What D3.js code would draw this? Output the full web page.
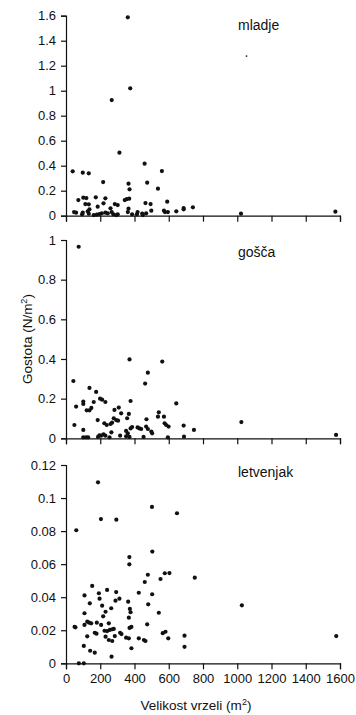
<!DOCTYPE html>
<html>
<head>
<meta charset="utf-8">
<script src="https://cdn.jsdelivr.net/npm/d3@7"></script>
<style>
  html, body { margin: 0; padding: 0; background: #fff; }
  svg { display: block; font-family: Arial, "Liberation Sans", sans-serif; }
</style>
</head>
<body>
<svg id="chart" width="356" height="715"></svg>
<script>
// ---- data (x = gap size m², y = density N/m²) ----
const xTicks = [0, 200, 400, 600, 800, 1000, 1200, 1400, 1600];

const mladjeX = [361, 375, 267, 312, 459, 39, 560, 98, 133, 217, 365, 474, 371, 537,
  72, 101, 119, 174, 230, 343, 355, 369, 113, 133, 219, 285, 302, 464, 494, 591,
  185, 260, 137, 687, 687, 741, 365, 498, 572, 644, 47, 59, 98, 127, 162, 180, 195,
  209, 230, 244, 267, 277, 302, 361, 418, 445, 468, 578, 595, 1022, 1573, 94, 133,
  414, 449, 293, 386];
const mladjeY = [1.587, 1.019, 0.925, 0.504, 0.416, 0.355, 0.357, 0.344, 0.339, 0.269,
  0.256, 0.264, 0.211, 0.216, 0.125, 0.144, 0.141, 0.147, 0.139, 0.125, 0.133, 0.136,
  0.093, 0.091, 0.099, 0.093, 0.085, 0.101, 0.093, 0.112, 0.072, 0.059, 0.051, 0.061,
  0.051, 0.067, 0.056, 0.040, 0.040, 0.035, 0.029, 0.024, 0.024, 0.035, 0.005, 0.008,
  0.013, 0.019, 0.024, 0.019, 0.029, 0.011, 0.011, 0.029, 0.029, 0.016, 0.019, 0.029,
  0.029, 0.016, 0.032, 0.011, 0.016, 0.011, 0.005, 0.005, 0.011];
const mladjeSpeckX = [1054];
const mladjeSpeckY = [1.277];

const goscaX = [74, 371, 562, 478, 462, 43, 137, 377, 176, 644, 59, 101, 101, 121, 137,
  148, 162, 199, 211, 230, 308, 283, 322, 367, 49, 185, 224, 238, 260, 269, 279, 293,
  304, 357, 470, 542, 537, 572, 576, 585, 599, 687, 747, 1024, 1577, 101, 351, 361,
  377, 386, 418, 429, 439, 468, 478, 498, 503, 265, 316, 195, 205, 219, 230, 187, 101,
  117, 129, 254, 351, 371, 453, 595, 689];
const goscaY = [0.966, 0.398, 0.387, 0.331, 0.276, 0.289, 0.254, 0.188, 0.234, 0.176,
  0.160, 0.185, 0.173, 0.141, 0.141, 0.153, 0.183, 0.200, 0.195, 0.183, 0.155, 0.143,
  0.126, 0.123, 0.067, 0.092, 0.076, 0.067, 0.072, 0.079, 0.101, 0.092, 0.089, 0.101,
  0.096, 0.131, 0.109, 0.109, 0.076, 0.067, 0.059, 0.064, 0.042, 0.082, 0.017, 0.042,
  0.037, 0.025, 0.050, 0.057, 0.055, 0.050, 0.047, 0.059, 0.047, 0.034, 0.025, 0.030,
  0.013, 0.015, 0.013, 0.020, 0.013, 0.007, 0.005, 0.005, 0.005, 0.005, 0.010, 0.007,
  0.007, 0.005, 0.008];

const letvenjakX = [187, 60, 204, 294, 502, 648, 504, 370, 370, 478, 577, 604, 752, 460,
  552, 153, 240, 108, 192, 293, 425, 503, 196, 289, 312, 139, 211, 363, 373, 377, 480,
  231, 264, 108, 367, 542, 217, 50, 55, 108, 124, 135, 147, 180, 205, 250, 225, 240,
  256, 270, 279, 168, 178, 285, 231, 316, 324, 351, 367, 371, 382, 124, 250, 270, 474,
  425, 455, 464, 565, 581, 597, 692, 692, 382, 104, 141, 168, 266, 75, 104, 1027, 1578];
const letvenjakY = [0.1095, 0.0805, 0.0873, 0.0869, 0.0946, 0.0908, 0.0676, 0.0643,
  0.0599, 0.0536, 0.0545, 0.0546, 0.0518, 0.0492, 0.0510, 0.0468, 0.0444, 0.0411,
  0.0424, 0.0431, 0.0427, 0.0418, 0.0391, 0.0379, 0.0391, 0.0363, 0.0349, 0.0373,
  0.0329, 0.0309, 0.0357, 0.0312, 0.0333, 0.0303, 0.0276, 0.0306, 0.0284, 0.0221,
  0.0218, 0.0232, 0.0252, 0.0246, 0.0242, 0.0246, 0.0232, 0.0242, 0.0197, 0.0195,
  0.0202, 0.0206, 0.0208, 0.0185, 0.0179, 0.0165, 0.0161, 0.0185, 0.0177, 0.0155,
  0.0151, 0.0214, 0.0220, 0.0163, 0.0141, 0.0135, 0.0236, 0.0151, 0.0141, 0.0135,
  0.0182, 0.0191, 0.0151, 0.0167, 0.0100, 0.0091, 0.0105, 0.0076, 0.0064, 0.0040,
  0, 0, 0.0351, 0.0165];

const panels = [
  { name: "mladje", xs: mladjeX, ys: mladjeY, yMax: 1.6,
    yTicks: [0, 0.2, 0.4, 0.6, 0.8, 1, 1.2, 1.4, 1.6], top: 15.7, bottom: 215.7, labelY: 30 },
  { name: "gošča", xs: goscaX, ys: goscaY, yMax: 1,
    yTicks: [0, 0.2, 0.4, 0.6, 0.8, 1], top: 240, bottom: 438.3, labelY: 257 },
  { name: "letvenjak", xs: letvenjakX, ys: letvenjakY, yMax: 0.12,
    yTicks: [0, 0.02, 0.04, 0.06, 0.08, 0.1, 0.12], top: 465, bottom: 663.3, labelY: 477 }
];

const svg = d3.select("#chart");
const x = d3.scaleLinear().domain([0, 1600]).range([66, 340]);

panels.forEach((p, i) => {
  const y = d3.scaleLinear().domain([0, p.yMax]).range([p.bottom, p.top]);
  const g = svg.append("g");

  const xa = d3.axisBottom(x).tickValues(xTicks).tickSize(6).tickPadding(4)
    .tickFormat(i === 2 ? d3.format("d") : () => "");
  g.append("g").attr("transform", `translate(0,${p.bottom})`).call(xa)
    .call(a => a.selectAll("text").attr("font-size", 13).attr("fill", "#111").attr("font-family", "Arial, 'Liberation Sans', sans-serif"))
    .call(a => a.selectAll("line,path").attr("stroke", "#111").attr("stroke-width", 1.2));

  const ya = d3.axisLeft(y).tickValues(p.yTicks).tickSize(5).tickPadding(5)
    .tickFormat(d => d3.format("")(+d.toFixed(2)));
  g.append("g").attr("transform", `translate(${x(0)},0)`).call(ya)
    .call(a => a.selectAll("text").attr("font-size", 13).attr("fill", "#111").attr("font-family", "Arial, 'Liberation Sans', sans-serif"))
    .call(a => a.selectAll("line,path").attr("stroke", "#111").attr("stroke-width", 1.2));
  g.selectAll(".domain").attr("d", function() { return d3.select(this).attr("d"); });

  g.append("g").selectAll("circle")
    .data(d3.range(p.xs.length))
    .join("circle")
    .attr("cx", k => x(p.xs[k]))
    .attr("cy", k => y(p.ys[k]))
    .attr("r", 2.1)
    .attr("fill", "#111");

  if (i === 0) {
    g.append("g").selectAll("circle")
      .data(d3.range(mladjeSpeckX.length))
      .join("circle")
      .attr("cx", k => x(mladjeSpeckX[k]))
      .attr("cy", k => y(mladjeSpeckY[k]))
      .attr("r", 0.9)
      .attr("fill", "#222");
  }

  g.append("text").attr("x", 238).attr("y", p.labelY)
    .attr("font-size", 14).attr("fill", "#111").text(p.name);
});

// y-axis title
const yt = svg.append("text")
  .attr("transform", "translate(32,339) rotate(-90)")
  .attr("text-anchor", "middle").attr("font-size", 13.5).attr("fill", "#111");
yt.append("tspan").text("Gostota (N/m");
yt.append("tspan").attr("dy", -5).attr("font-size", 9).text("2");
yt.append("tspan").attr("dy", 5).text(")");

// x-axis title
const xt = svg.append("text")
  .attr("x", 196).attr("y", 710)
  .attr("text-anchor", "middle").attr("font-size", 13.5).attr("fill", "#111");
xt.append("tspan").text("Velikost vrzeli (m");
xt.append("tspan").attr("dy", -5).attr("font-size", 9).text("2");
xt.append("tspan").attr("dy", 5).text(")");
</script>
</body>
</html>
